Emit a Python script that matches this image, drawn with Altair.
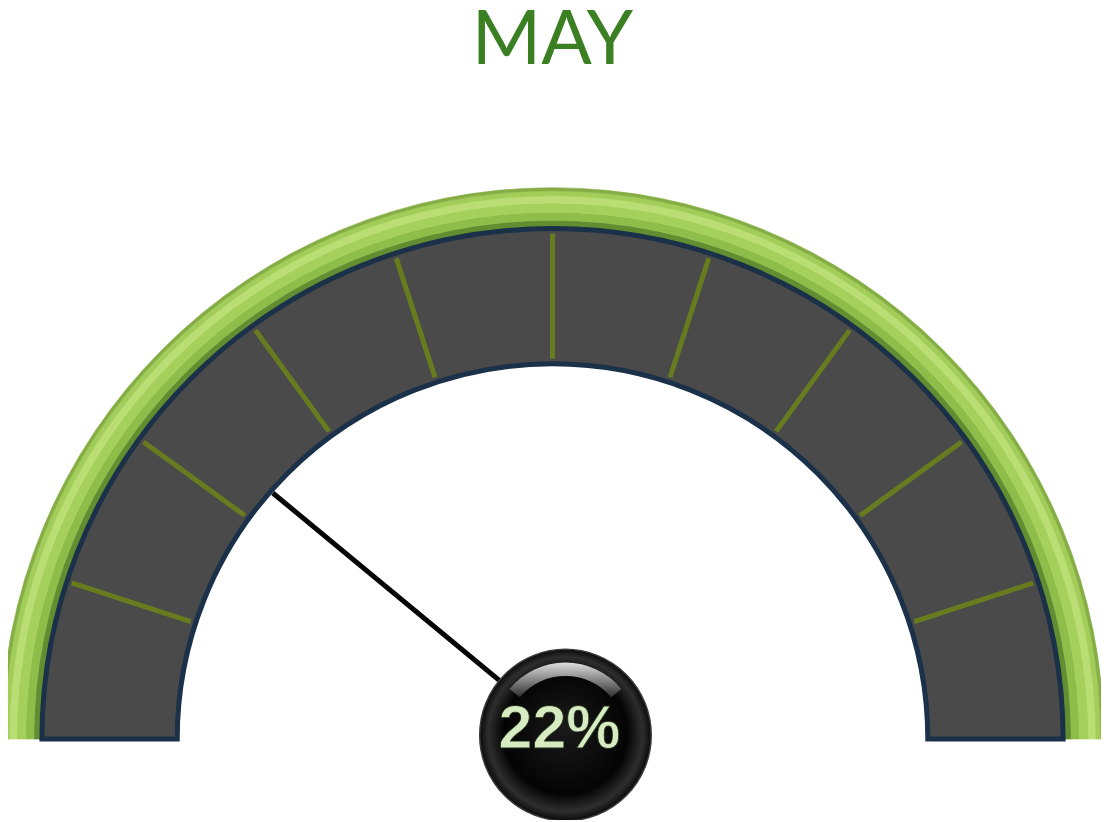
import math
import altair as alt
import pandas as pd

# ---------------- data ----------------
MONTH = ["MAY"]
VALUE = [22]                 # gauge reading, percent
GAUGE_RANGE = [0, 100]
TICK_VALUES = [10, 20, 30, 40, 50, 60, 70, 80, 90]

# ---------------- layout / style constants ----------------
W, H = 1096, 812
PXU = 512.0                            # pixels per gauge unit
CX_PX, CY_PX = 546, 732                # gauge centre inside the plot area
XDOM = [-CX_PX / PXU, (W - CX_PX) / PXU]
YDOM = [-(H - CY_PX) / PXU, CY_PX / PXU]
HUB = (0.0254, 0.0078)                 # needle pivot / hub centre
R_BAND_IN, R_BAND_OUT = 0.735, 1.0
R_TICK_IN, R_TICK_OUT = 0.745, 0.99
R_NEEDLE = 0.744
HUB_DIAM_PX = 172
TITLE_Y = (CY_PX - 55) / PXU

xs = alt.Scale(domain=XDOM, nice=False, zero=False)
ys = alt.Scale(domain=YDOM, nice=False, zero=False)
ts = alt.Scale(domain=GAUGE_RANGE, range=[-math.pi / 2, math.pi / 2], zero=False, nice=False)
rs = alt.Scale(type="linear", domain=[0, 1], range=[0, PXU], zero=True, nice=False)

lo, hi = GAUGE_RANGE
span = hi - lo


def arc_layer(t1, t2, r_out, r_in, cx=0.0, cy=0.0, **mark):
    df = pd.DataFrame({"cx": [cx], "cy": [cy], "t1": [t1], "t2": [t2],
                       "ro": [r_out], "ri": [r_in]})
    return alt.Chart(df).mark_arc(**mark).encode(
        x=alt.X("cx:Q", scale=xs, axis=None),
        y=alt.Y("cy:Q", scale=ys, axis=None),
        theta=alt.Theta("t1:Q", scale=ts, stack=None),
        theta2="t2:Q",
        radius=alt.Radius("ro:Q", scale=rs),
        radius2="ri:Q",
    )


# green rim: concentric stripes imitating its rounded shading (inner -> outer)
RIM_STRIPES = [
    (1.003, 1.016, "#628d31"),
    (1.016, 1.032, "#8fbd49"),
    (1.032, 1.050, "#a6d05c"),
    (1.050, 1.064, "#bade74"),
    (1.064, 1.074, "#a3cd59"),
    (1.074, 1.080, "#84ad43"),
]
rim = [arc_layer(lo, hi, ro, ri, fill=c, stroke=c, strokeWidth=0.6)
       for ri, ro, c in RIM_STRIPES]

# dark band
band = arc_layer(lo, hi, R_BAND_OUT, R_BAND_IN, fill="#4a4a4a",
                 stroke="#1b3049", strokeWidth=5)

# tick marks
ticks_df = pd.DataFrame({"v": TICK_VALUES})
ticks = alt.Chart(ticks_df).transform_calculate(
    a=f"PI * (1 - (datum.v - {lo}) / {span})"
).transform_calculate(
    x1=f"{R_TICK_IN} * cos(datum.a)", y1=f"{R_TICK_IN} * sin(datum.a)",
    x2=f"{R_TICK_OUT} * cos(datum.a)", y2=f"{R_TICK_OUT} * sin(datum.a)",
).mark_rule(color="#687c1f", strokeWidth=5).encode(
    x=alt.X("x1:Q", scale=xs, axis=None), y=alt.Y("y1:Q", scale=ys, axis=None),
    x2="x2:Q", y2="y2:Q",
)

# needle
needle_df = pd.DataFrame({"v": VALUE, "hx": [HUB[0]], "hy": [HUB[1]]})
needle = alt.Chart(needle_df).transform_calculate(
    a=f"PI * (1 - (datum.v - {lo}) / {span})"
).transform_calculate(
    tx=f"datum.hx + {R_NEEDLE} * cos(datum.a)",
    ty=f"datum.hy + {R_NEEDLE} * sin(datum.a)",
).mark_rule(color="#050505", strokeWidth=5, strokeCap="butt").encode(
    x=alt.X("hx:Q", scale=xs, axis=None), y=alt.Y("hy:Q", scale=ys, axis=None),
    x2="tx:Q", y2="ty:Q",
)

# hub
hub = alt.Chart(needle_df).mark_circle(
    size=HUB_DIAM_PX ** 2, opacity=1,
    fill=alt.Gradient(gradient="radial", x1=0.5, y1=0.45, r1=0, x2=0.5, y2=0.5, r2=0.5,
                      stops=[alt.GradientStop(offset=0, color="#1a1a1a"),
                             alt.GradientStop(offset=0.72, color="#040404"),
                             alt.GradientStop(offset=0.9, color="#2e2e2e"),
                             alt.GradientStop(offset=1, color="#0a0a0a")]),
    stroke="#3c3c3c", strokeWidth=1.5,
).encode(
    x=alt.X("hx:Q", scale=xs, axis=None), y=alt.Y("hy:Q", scale=ys, axis=None),
)

hub_shine = arc_layer(22, 78, 0.142, 0.116, cx=HUB[0], cy=HUB[1],
                      fill=alt.Gradient(gradient="linear", x1=0, y1=0, x2=0, y2=1,
                                        stops=[alt.GradientStop(offset=0, color="#f4f4f4"),
                                               alt.GradientStop(offset=1, color="#333333")]),
                      opacity=0.9)

label = alt.Chart(needle_df).transform_calculate(
    lbl="format(datum.v, 'd') + '%'"
).mark_text(font="Liberation Sans", fontWeight="bold", fontSize=61,
            color="#d6ebc2", stroke="#1d2a12", strokeWidth=0.8,
            align="center", baseline="middle", dx=-6, dy=-5).encode(
    x=alt.X("hx:Q", scale=xs, axis=None), y=alt.Y("hy:Q", scale=ys, axis=None),
    text="lbl:N",
)

title_df = pd.DataFrame({"m": MONTH, "x": [(554 - 8 - CX_PX) / PXU], "y": [TITLE_Y]})
title = alt.Chart(title_df).mark_text(
    font="Lato", fontSize=75, color="#3b7f23", align="center", baseline="alphabetic"
).encode(
    x=alt.X("x:Q", scale=xs, axis=None), y=alt.Y("y:Q", scale=ys, axis=None),
    text="m:N",
)

chart = alt.layer(
    *rim, band, ticks, needle, hub, hub_shine, label, title,
).properties(
    width=W, height=H, autosize=alt.AutoSizeParams(type="none"), padding=0,
    background="white",
).configure_view(stroke=None)

chart.save("out.html", embed_options={"renderer": "svg", "actions": False})
